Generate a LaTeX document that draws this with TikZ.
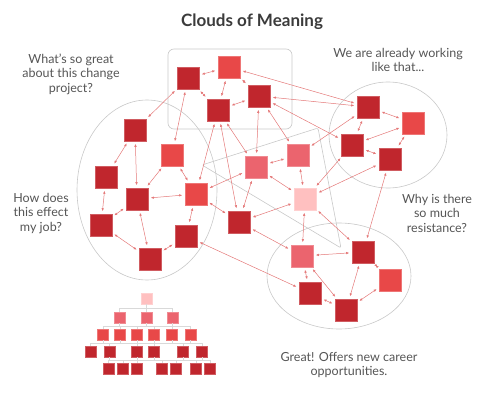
\documentclass[tikz,border=0pt]{standalone}
\usepackage{fontspec}
\setmainfont{Lato}
\usetikzlibrary{arrows.meta}
\definecolor{redA}{RGB}{192,38,45}
\definecolor{redB}{RGB}{232,72,72}
\definecolor{redC}{RGB}{235,100,110}
\definecolor{redD}{RGB}{255,192,192}
\definecolor{linkred}{RGB}{228,120,120}
\definecolor{cloudgray}{RGB}{200,200,200}
\definecolor{txtgray}{RGB}{85,85,85}

\begin{document}
\begin{tikzpicture}[x=1pt,y=-1pt,line width=0.5pt,>={Latex[length=3pt,width=2.5pt]},
  sq/.style={minimum size=22pt,inner sep=0pt,fill=#1,draw=#1!75!white,line width=0.6pt},
  mini/.style={minimum size=11pt,inner sep=0pt,fill=#1,draw=#1!75!white,line width=0.4pt},
  link/.style={<->,linkred,shorten <=2.5pt,shorten >=2.5pt},
  cloud/.style={cloudgray,line width=0.6pt},
  tree/.style={gray!30,line width=0.5pt},
  say/.style={txtgray,align=center,font=\fontsize{12.5}{14.5}\selectfont}]
  \useasboundingbox (0,0) rectangle (500,417);
  % the clouds
  \draw[cloud,rounded corners=6pt] (168,49) rectangle (292,129);
  \draw[cloud] (147,190) ellipse [x radius=70pt,y radius=90pt];
  \draw[cloud] (388,135) ellipse [x radius=59pt,y radius=53pt];
  \draw[cloud] (339,276) ellipse [x radius=72pt,y radius=53pt];
  \draw[cloud,rounded corners=2pt] (202,165) -- (318,128) -- (341,248) -- cycle;
  % top box
  \node[sq=redA] (t1) at (188,78) {};
  \node[sq=redB] (t2) at (229,67) {};
  \node[sq=redA] (t3) at (218,110) {};
  \node[sq=redA] (t4) at (259,96) {};
  % left ellipse
  \node[sq=redA] (l1) at (135,130) {};
  \node[sq=redB] (l2) at (172,155) {};
  \node[sq=redA] (l3) at (106,177) {};
  \node[sq=redA] (l4) at (137,199) {};
  \node[sq=redB] (l5) at (196,194) {};
  \node[sq=redA] (l6) at (101,225) {};
  \node[sq=redA] (l7) at (186,236) {};
  \node[sq=redA] (l8) at (150,259) {};
  % middle
  \node[sq=redC] (m1) at (256,167) {};
  \node[sq=redC] (m2) at (298,155) {};
  \node[sq=redA] (m3) at (239,222) {};
  \node[sq=redD] (m4) at (305,199) {};
  % right circle
  \node[sq=redA] (r1) at (368,107) {};
  \node[sq=redB] (r2) at (413,123) {};
  \node[sq=redA] (r3) at (352,145) {};
  \node[sq=redA] (r4) at (390,159) {};
  % bottom ellipse
  \node[sq=redC] (b1) at (302,256) {};
  \node[sq=redA] (b2) at (363,252) {};
  \node[sq=redB] (b3) at (390,280) {};
  \node[sq=redA] (b4) at (310,293) {};
  \node[sq=redA] (b5) at (346,310) {};
  \foreach \a/\b in {t1/t2,t2/t3,t1/t3,t2/t4,t3/t4,t2/r1,t4/r1,t4/r3,t1/l1,t1/l2,
      t3/l5,t3/m3,t3/m1,t4/m1,t4/m2,l1/l3,l1/l4,l3/l6,l4/l6,l4/l5,l2/l4,l2/l5,
      l4/l8,l8/l7,l6/l8,l5/l7,l7/b4,l5/m1,l5/m3,m1/m2,m1/m4,m1/m3,m2/m4,m2/r1,
      m4/r3,m4/r4,m4/b2,r4/b2,m4/b1,m3/m4,m3/b1,b1/b2,b1/b4,b1/b5,b2/b5,b2/b3,
      b3/b5,b4/b5,r1/r2,r1/r3,r2/r3,r2/r4,r3/r4}
    \draw[link] (\a) -- (\b);
  % hierarchy
  \node[mini=redD] (h1) at (146.5,298.5) {};
  \foreach \n/\x in {a/119.5,b/146.5,c/172.5} \node[mini=redC] (h2\n) at (\x,317.5) {};
  \foreach \n/\x in {a/103,b/120,c/137,d/154,e/172,f/190.6} \node[mini=redB] (h3\n) at (\x,334.5) {};
  \foreach \n/\x in {a/90.5,b/109.5,c/137,d/154,e/183,f/202} \node[mini=redA] (h4\n) at (\x,351.5) {};
  \foreach \n/\x in {a/108.3,b/123,c/137,d/162,e/176,f/196,g/210} \node[mini=redA] (h5\n) at (\x,368.5) {};
  \draw[tree] (h1.south) -- ++(0,4);
  \draw[tree] ([yshift=4pt]h2a.north) -- ([yshift=4pt]h2c.north);
  \foreach \n in {a,b,c} \draw[tree] (h2\n.north) -- ++(0,-4) (h2\n.south) -- ++(0,3);
  \draw[tree] ([yshift=3pt]h3a.north) -- ([yshift=3pt]h3f.north);
  \foreach \n in {a,b,c,d,e,f} \draw[tree] (h3\n.north) -- ++(0,-3) (h3\n.south) -- ++(0,3);
  \draw[tree] ([yshift=3pt]h4a.north) -- ([yshift=3pt]h4f.north);
  \foreach \n in {a,b,c,d,e,f} \draw[tree] (h4\n.north) -- ++(0,-3);
  \foreach \n in {b,c,d,e,f} \draw[tree] (h4\n.south) -- ++(0,3);
  \draw[tree] ([yshift=3pt]h5a.north) -- ([yshift=3pt]h5g.north);
  \foreach \n in {a,b,c,d,e,f,g} \draw[tree] (h5\n.north) -- ++(0,-3);
  % texts
  \node[text=txtgray!70!black,font=\bfseries\fontsize{17}{20}\selectfont] (title) at (252,22) {Clouds of Meaning};
  \node[say] (qa) at (71,74) {What’s so great\\about this change\\project?};
  \node[say] (qb) at (398,60) {We are already working\\like that...};
  \node[say] (qc) at (41,213.5) {How does\\this effect\\my job?};
  \node[say] (qd) at (437,213) {Why is there\\so much\\resistance?};
  \node[say] (qe) at (349,365) {Great! Offers new career\\opportunities.};
\end{tikzpicture}
\end{document}
